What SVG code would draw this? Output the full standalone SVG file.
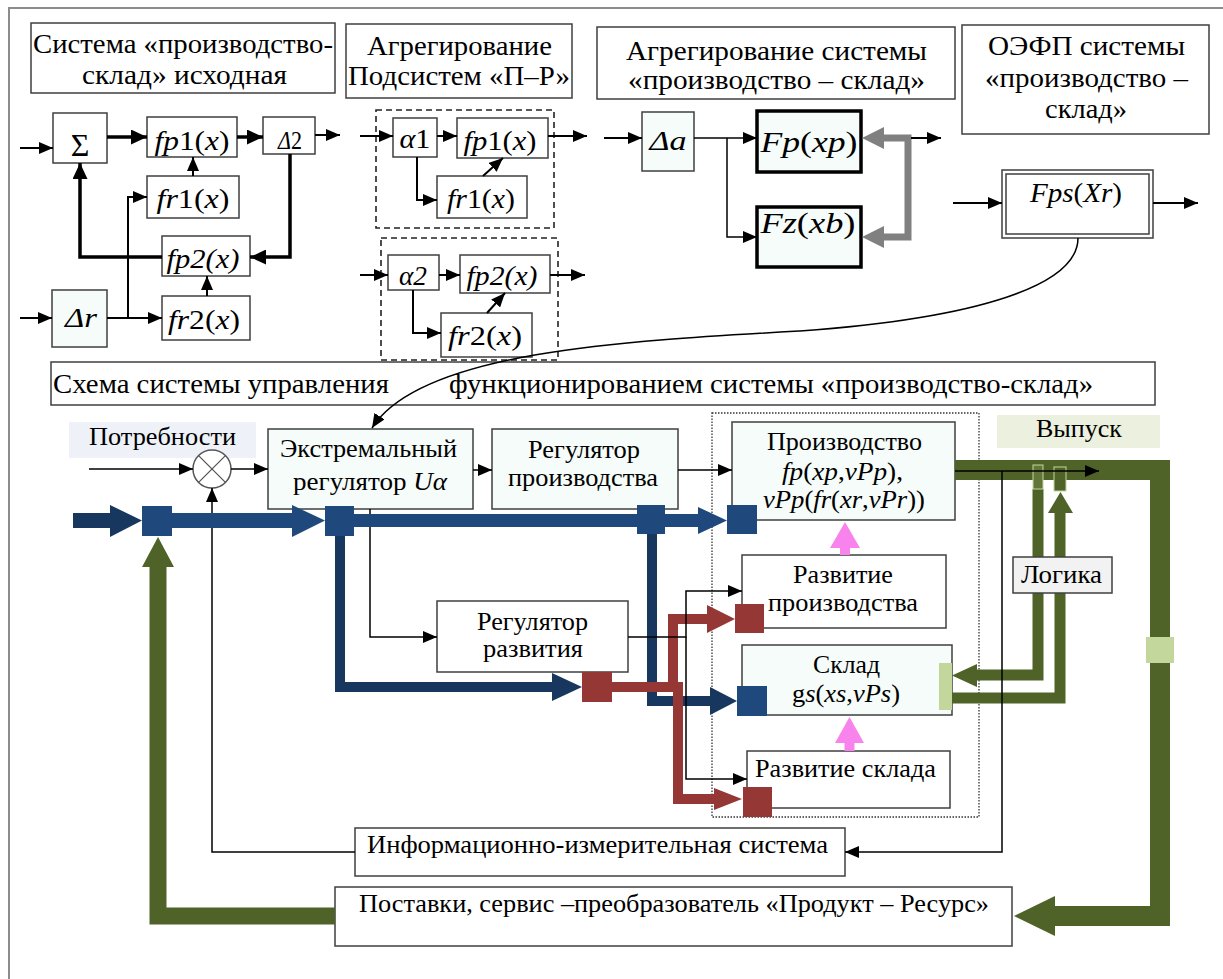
<svg xmlns="http://www.w3.org/2000/svg" width="1223" height="979" viewBox="0 0 1223 979">
<defs>
<style>
.bx{fill:#fff;stroke:#3f3f3f;stroke-width:1.5}
.bm{fill:#f5fcf9;stroke:#3f3f3f;stroke-width:1.5}
.bt{fill:#f5fcf9;stroke:#000;stroke-width:3.5}
.t{font-family:'Liberation Serif','Times New Roman',serif;font-size:26px;fill:#000;text-anchor:middle}
.tl{text-anchor:start}
.f{font-size:28px}
.i{font-style:italic}
.ln{fill:none;stroke:#000;stroke-width:1.5}
.lm{fill:none;stroke:#000;stroke-width:2}
.lk{fill:none;stroke:#000;stroke-width:3.5}
.dash{fill:none;stroke:#222;stroke-width:1.6;stroke-dasharray:6 4}
.dot{fill:none;stroke:#333;stroke-width:1.3;stroke-dasharray:1.5 1.5}
.nv{fill:#1f497d}
.nd{fill:#17375e}
.rd{fill:#953735}
.gr{fill:#4f6228}
.lg{fill:#c3d69b}
.pk{fill:#f983ec}
</style>
<marker id="a" markerWidth="14" markerHeight="12" refX="14" refY="6" orient="auto" markerUnits="userSpaceOnUse"><path d="M0,0L14,6L0,12z" fill="#000"/></marker>
<marker id="ab" markerWidth="16" markerHeight="15" refX="16" refY="7.5" orient="auto" markerUnits="userSpaceOnUse"><path d="M0,0L16,7.5L0,15z" fill="#000"/></marker>
</defs>

<path d="M9,979V8H1223" fill="none" stroke="#8c8c8c" stroke-width="2"/>

<g font-family="'Liberation Serif','Times New Roman',serif">
<!-- Top-left section -->
<g id="title1"><rect class="bx" x="31" y="23" width="304" height="70"/>
<text class="t" x="183" y="53" textLength="300" lengthAdjust="spacingAndGlyphs" style="font-size:27px">Система «производство-</text>
<text class="t" x="184.5" y="84" textLength="205" lengthAdjust="spacingAndGlyphs" style="font-size:27px">склад» исходная</text></g>
<g id="sigma"><rect class="bx" x="53" y="113" width="54" height="50"/><text class="t" x="80" y="156" style="font-size:32px">Σ</text></g>
<g id="fp1a"><rect class="bx" x="147" y="117" width="90" height="40"/><text class="t f" x="192" y="150" textLength="75" lengthAdjust="spacingAndGlyphs"><tspan class="i">fp</tspan>1(<tspan class="i">x</tspan>)</text></g>
<g id="d2"><rect class="bx" x="263" y="117" width="52" height="37"/><text class="t f" x="290" y="149" textLength="24" lengthAdjust="spacingAndGlyphs" style="font-size:26px"><tspan class="i">Δ</tspan>2</text></g>
<g id="fr1a"><rect class="bx" x="147" y="176" width="92" height="42"/><text class="t f" x="193" y="208" textLength="73" lengthAdjust="spacingAndGlyphs"><tspan class="i">fr</tspan>1(<tspan class="i">x</tspan>)</text></g>
<g id="fp2a"><rect class="bx" x="162" y="236" width="88" height="40"/><text class="t f i" x="203" y="268" textLength="73" lengthAdjust="spacingAndGlyphs">fp2(x)</text></g>
<g id="fr2a"><rect class="bx" x="162" y="296" width="88" height="44"/><text class="t f" x="204" y="329" textLength="72" lengthAdjust="spacingAndGlyphs"><tspan class="i">fr</tspan>2(<tspan class="i">x</tspan>)</text></g>
<g id="dr"><rect class="bm" x="52" y="290" width="55" height="57"/><text class="t f i" x="81" y="327" textLength="32" lengthAdjust="spacingAndGlyphs">Δr</text></g>

<!-- Top-middle section -->
<g id="title2"><rect class="bx" x="346" y="24" width="226" height="74"/>
<text class="t" x="459.5" y="55" textLength="185" lengthAdjust="spacingAndGlyphs" style="font-size:27px">Агрегирование</text>
<text class="t" x="459" y="85" textLength="222" lengthAdjust="spacingAndGlyphs" style="font-size:27px">Подсистем «П–Р»</text></g>
<g id="grp1"><rect class="dash" x="376" y="110" width="178" height="118"/></g>
<g id="grp2"><rect class="dash" x="381" y="238" width="177" height="122"/></g>
<g id="a1"><rect class="bx" x="393" y="118" width="44" height="39"/><text class="t f" x="415" y="148" textLength="31" lengthAdjust="spacingAndGlyphs"><tspan class="i">α</tspan>1</text></g>
<g id="fp1b"><rect class="bx" x="457" y="118" width="91" height="40"/><text class="t f" x="500" y="150" textLength="73" lengthAdjust="spacingAndGlyphs"><tspan class="i">fp</tspan>1(<tspan class="i">x</tspan>)</text></g>
<g id="fr1b"><rect class="bx" x="437" y="176" width="90" height="42"/><text class="t f" x="481" y="208" textLength="68" lengthAdjust="spacingAndGlyphs"><tspan class="i">fr</tspan>1(<tspan class="i">x</tspan>)</text></g>
<g id="a2"><rect class="bx" x="388" y="255" width="51" height="35"/><text class="t f i" x="413" y="285" textLength="28" lengthAdjust="spacingAndGlyphs">α2</text></g>
<g id="fp2b"><rect class="bx" x="460" y="255" width="90" height="38"/><text class="t f i" x="502" y="285" textLength="71" lengthAdjust="spacingAndGlyphs">fp2(x)</text></g>
<g id="fr2b"><rect class="bx" x="441" y="313" width="91" height="44"/><text class="t f" x="485" y="345" textLength="74" lengthAdjust="spacingAndGlyphs"><tspan class="i">fr</tspan>2(<tspan class="i">x</tspan>)</text></g>

<!-- Top-right section -->
<g id="title3"><rect class="bx" x="597" y="27" width="358" height="72"/>
<text class="t" x="776.5" y="60" textLength="301" lengthAdjust="spacingAndGlyphs" style="font-size:27px">Агрегирование системы</text>
<text class="t" x="776.5" y="89" textLength="297" lengthAdjust="spacingAndGlyphs" style="font-size:27px">«производство – склад»</text></g>
<g id="title4"><rect class="bx" x="962" y="25" width="247" height="109"/>
<text class="t" x="1086.5" y="55" textLength="197" lengthAdjust="spacingAndGlyphs" style="font-size:27px">ОЭФП системы</text>
<text class="t" x="1086.5" y="87" textLength="203" lengthAdjust="spacingAndGlyphs" style="font-size:27px">«производство –</text>
<text class="t" x="1086" y="118" textLength="82" lengthAdjust="spacingAndGlyphs" style="font-size:27px">склад»</text></g>
<g id="da"><rect class="bm" x="642" y="112" width="52" height="59"/><text class="t f i" x="668" y="150" textLength="37" lengthAdjust="spacingAndGlyphs">Δa</text></g>
<g id="Fp"><rect class="bt" x="757" y="111" width="104" height="61"/><text class="t f" x="809" y="152" textLength="97" lengthAdjust="spacingAndGlyphs" style="font-size:30px"><tspan class="i">Fp</tspan>(<tspan class="i">xp</tspan>)</text></g>
<g id="Fz"><rect class="bt" x="757" y="207" width="104" height="60"/><text class="t f" x="808" y="233" textLength="95" lengthAdjust="spacingAndGlyphs" style="font-size:30px"><tspan class="i">Fz</tspan>(<tspan class="i">xb</tspan>)</text></g>
<g id="Fps"><rect class="bx" x="1002" y="170" width="151" height="68"/><rect class="bx" x="1006" y="174" width="143" height="60"/><text class="t f" x="1076" y="202" textLength="92" lengthAdjust="spacingAndGlyphs"><tspan class="i">Fps</tspan>(<tspan class="i">Xr</tspan>)</text></g>

<!-- Lower section nodes -->
<g id="schema"><rect class="bx" x="51" y="362" width="1104" height="43"/>
<text class="t tl" x="53" y="393" textLength="336" lengthAdjust="spacingAndGlyphs" style="font-size:27px">Схема системы управления</text>
<text class="t tl" x="449" y="393" textLength="644" lengthAdjust="spacingAndGlyphs" style="font-size:27px">функционированием системы «производство-склад»</text></g>
<g id="potr"><rect x="69" y="422" width="187" height="36" fill="#eef2f8"/><text class="t" x="162.5" y="445" textLength="147" lengthAdjust="spacingAndGlyphs">Потребности</text></g>
<g id="vyp"><rect x="997" y="415" width="163" height="33" fill="#ebf1de"/><text class="t" x="1079" y="437" textLength="86" lengthAdjust="spacingAndGlyphs">Выпуск</text></g>
<g id="extr"><rect class="bm" x="268" y="429" width="205" height="80"/>
<text class="t" x="368.5" y="457" textLength="177" lengthAdjust="spacingAndGlyphs">Экстремальный</text>
<text class="t" x="370" y="490" textLength="154" lengthAdjust="spacingAndGlyphs">регулятор <tspan class="i">Uα</tspan></text></g>
<g id="regp"><rect class="bm" x="492" y="429" width="186" height="80"/>
<text class="t" x="584" y="458" textLength="112" lengthAdjust="spacingAndGlyphs">Регулятор</text>
<text class="t" x="583" y="486" textLength="150" lengthAdjust="spacingAndGlyphs">производства</text></g>
<g id="prod"><rect class="bm" x="732" y="422" width="223" height="98"/>
<text class="t" x="844.5" y="450" textLength="155" lengthAdjust="spacingAndGlyphs">Производство</text>
<text class="t" x="842.5" y="480" textLength="121" lengthAdjust="spacingAndGlyphs"><tspan class="i">fp</tspan>(<tspan class="i">xp</tspan>,<tspan class="i">vPp</tspan>),</text>
<text class="t" x="844" y="508" textLength="162" lengthAdjust="spacingAndGlyphs"><tspan class="i">vPp</tspan>(<tspan class="i">fr</tspan>(<tspan class="i">xr</tspan>,<tspan class="i">vPr</tspan>))</text></g>
<g id="razvp"><rect class="bx" x="742" y="555" width="204" height="73"/>
<text class="t" x="843" y="583" textLength="100" lengthAdjust="spacingAndGlyphs">Развитие</text>
<text class="t" x="843" y="611" textLength="150" lengthAdjust="spacingAndGlyphs">производства</text></g>
<g id="sklad"><rect class="bm" x="742" y="645" width="210" height="70"/>
<text class="t" x="846.5" y="673" textLength="67" lengthAdjust="spacingAndGlyphs">Склад</text>
<text class="t" x="846" y="702" textLength="108" lengthAdjust="spacingAndGlyphs">g<tspan class="i">s</tspan>(<tspan class="i">xs</tspan>,<tspan class="i">vPs</tspan>)</text></g>
<g id="razvs"><rect class="bx" x="747" y="751" width="203" height="57"/>
<text class="t" x="845.5" y="777" textLength="181" lengthAdjust="spacingAndGlyphs">Развитие склада</text></g>
<g id="regr"><rect class="bx" x="437" y="601" width="191" height="71"/>
<text class="t" x="532.5" y="630" textLength="111" lengthAdjust="spacingAndGlyphs">Регулятор</text>
<text class="t" x="533" y="657" textLength="100" lengthAdjust="spacingAndGlyphs">развития</text></g>
<g id="ims"><rect class="bx" x="355" y="828" width="490" height="48"/>
<text class="t" x="597.5" y="853" textLength="461" lengthAdjust="spacingAndGlyphs">Информационно-измерительная система</text></g>
<g id="post"><rect class="bx" x="335" y="887" width="677" height="59"/>
<text class="t" x="674" y="912" textLength="630" lengthAdjust="spacingAndGlyphs">Поставки, сервис –преобразователь «Продукт – Ресурс»</text></g>
<g id="objbox"><rect class="dot" x="712" y="413" width="267" height="404"/></g>
<g id="mult"><circle cx="212" cy="469" r="19" fill="#fff" stroke="#555" stroke-width="1.5"/><path d="M198.6,455.6L225.4,482.4M225.4,455.6L198.6,482.4" stroke="#555" stroke-width="1.3"/></g>

<g id="connectors">
<!-- top-left -->
<path class="lm" d="M20,148H53" marker-end="url(#a)"/>
<path class="lk" d="M107,137H147" marker-end="url(#ab)"/>
<path class="lk" d="M237,137H263" marker-end="url(#ab)"/>
<path class="lm" d="M315,135H340" marker-end="url(#a)"/>
<path class="lm" d="M193,176V157" marker-end="url(#a)"/>
<path class="lk" d="M290,154V257H250" marker-end="url(#ab)"/>
<path class="lk" d="M162,257H80V163" marker-end="url(#ab)"/>
<path class="lm" d="M207,296V276" marker-end="url(#a)"/>
<path class="lm" d="M20,318H52" marker-end="url(#a)"/>
<path class="lm" d="M107,318H162" marker-end="url(#a)"/>
<path class="lm" d="M128,318V197H147" marker-end="url(#a)"/>
<!-- top-middle -->
<path class="lm" d="M360,136H393" marker-end="url(#a)"/>
<path class="lm" d="M437,136H457" marker-end="url(#a)"/>
<path class="lm" d="M548,136H587" marker-end="url(#a)"/>
<path class="lm" d="M417,157V200H437" marker-end="url(#a)"/>
<path class="lm" d="M483,176L503,158" marker-end="url(#a)"/>
<path class="lm" d="M360,275H388" marker-end="url(#a)"/>
<path class="lm" d="M439,275H460" marker-end="url(#a)"/>
<path class="lm" d="M550,275H585" marker-end="url(#a)"/>
<path class="lm" d="M413,290V333H441" marker-end="url(#a)"/>
<path class="lm" d="M487,313L505,293" marker-end="url(#a)"/>
<!-- top-right -->
<path class="lm" d="M604,138H642" marker-end="url(#a)"/>
<path class="ln" d="M694,138H757" marker-end="url(#a)"/>
<path class="ln" d="M727,138V237H757" marker-end="url(#a)"/>
<path d="M884,138H908V237H884" fill="none" stroke="#808080" stroke-width="7"/>
<polygon points="884,127 862,138 884,149" fill="#808080"/>
<polygon points="884,226 862,237 884,248" fill="#808080"/>
<path class="lm" d="M911,138H941" marker-end="url(#a)"/>
<path class="lm" d="M953,203H1002" marker-end="url(#a)"/>
<path class="lm" d="M1153,203H1198" marker-end="url(#a)"/>
<path class="ln" d="M1078,238C1078,285 980,318 800,331C620,341 420,352 372,428" marker-end="url(#a)"/>

<!-- lower thin -->
<path class="ln" d="M89,469H193" marker-end="url(#a)"/>
<path class="ln" d="M231,469H268" marker-end="url(#a)"/>
<path class="ln" d="M355,852H212V488" marker-end="url(#a)"/>
<path class="ln" d="M473,470H492" marker-end="url(#a)"/>
<path class="ln" d="M678,470H732" marker-end="url(#a)"/>
<path class="ln" d="M370,509V637H437" marker-end="url(#a)"/>

<!-- blue -->
<rect class="nd" x="73" y="513" width="38" height="15"/>
<polygon class="nd" points="110,505 142,520.5 110,537"/>
<rect class="nv" x="172" y="513" width="121" height="15"/>
<polygon class="nv" points="292,505 325,520.5 292,537"/>
<rect class="nv" x="354" y="514" width="345" height="13"/>
<polygon class="nv" points="698,507 727,520.5 698,534"/>
<path d="M340,536V687H553" fill="none" stroke="#17375e" stroke-width="10"/>
<polygon class="nd" points="552,673 582,687 552,701"/>
<path d="M652,534V701H711" fill="none" stroke="#17375e" stroke-width="10"/>
<polygon class="nd" points="710,687 737,701 710,715"/>

<!-- red -->
<path d="M612,687H683M673,692V619H708M678,687V799H715" fill="none" stroke="#953735" stroke-width="10"/>
<polygon class="rd" points="707,605 735,619 707,633"/>
<polygon class="rd" points="714,788 742,799 714,810"/>

<!-- black from regulator of development -->
<path class="ln" d="M628,637H686V591H742" marker-end="url(#a)"/>
<path class="ln" d="M686,637V779H747" marker-end="url(#a)"/>

<!-- green -->
<path d="M955,470H1160V916H1054" fill="none" stroke="#4f6228" stroke-width="20"/>
<polygon class="gr" points="1055,896 1014,916 1055,936"/>
<path d="M335,916H158V566" fill="none" stroke="#4f6228" stroke-width="17"/>
<polygon class="gr" points="142,567 158,537 174,567"/>
<path d="M1038,489V675H976" fill="none" stroke="#4f6228" stroke-width="11"/>
<polygon class="gr" points="977,664 952,675.5 977,687"/>
<path d="M952,698H1060V512" fill="none" stroke="#4f6228" stroke-width="11"/>
<polygon class="gr" points="1048,513 1060.5,492 1073,513"/>
<rect x="1033" y="465" width="10" height="24" fill="#62763a" stroke="#c3d69b" stroke-width="1"/>
<rect x="1054" y="467" width="12" height="24" fill="#4f6228" stroke="#c3d69b" stroke-width="1"/>
<rect class="lg" x="1146" y="637" width="28" height="26"/>
<rect class="lg" x="939" y="663" width="13" height="47"/>
<path class="ln" d="M955,471H1099" marker-end="url(#a)"/>
<path class="ln" d="M1002,471V852H845" marker-end="url(#a)"/>

<!-- pink -->
<polygon class="pk" points="830,548 845,522 860,548"/>
<rect class="pk" x="840" y="547" width="10" height="8"/>
<polygon class="pk" points="835,743 849.5,717 864,743"/>
<rect class="pk" x="844.5" y="742" width="10" height="9"/>
</g>

<g id="logic"><rect x="1013" y="557" width="99" height="36" fill="#f2f2f2" stroke="#3f3f3f" stroke-width="1.5"/>
<text class="t" x="1061.5" y="583" textLength="81" lengthAdjust="spacingAndGlyphs">Логика</text></g>

<g id="ports">
<rect class="nv" x="142" y="506" width="30" height="30"/>
<rect class="nv" x="325" y="506" width="29" height="30"/>
<rect class="nv" x="637" y="505" width="28" height="29"/>
<rect class="nv" x="727" y="505" width="30" height="29"/>
<rect class="nv" x="737" y="686" width="30" height="30"/>
<rect class="rd" x="582" y="672" width="30" height="30"/>
<rect class="rd" x="735" y="604" width="29" height="29"/>
<rect class="rd" x="743" y="787" width="29" height="30"/>
</g>
</g>
</svg>
